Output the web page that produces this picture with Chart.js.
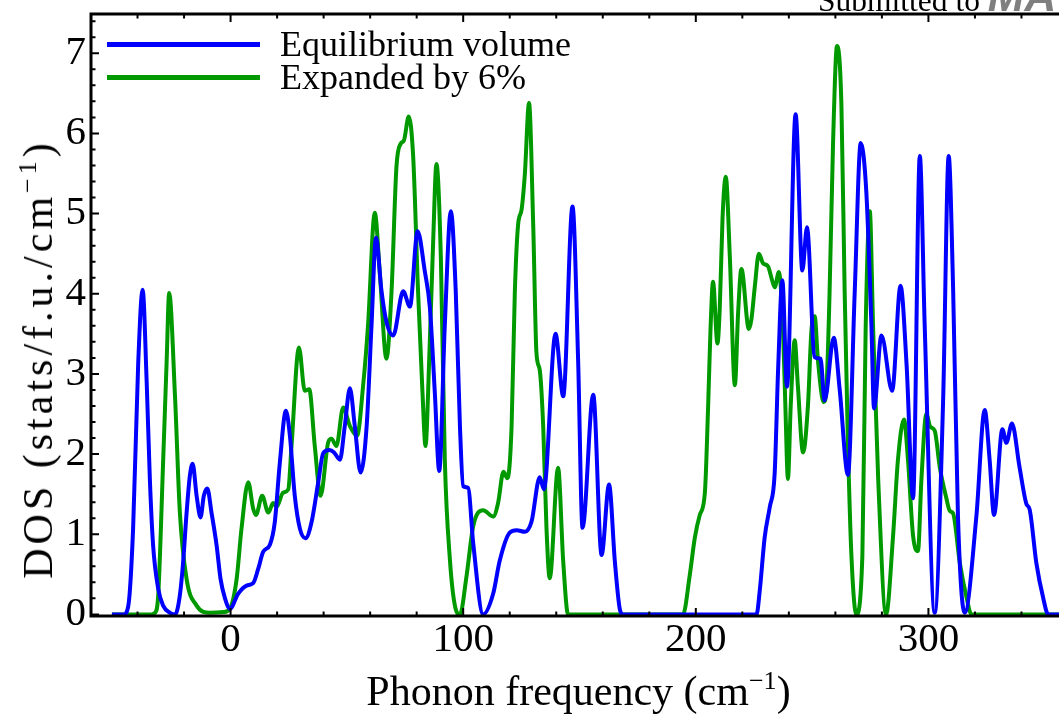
<!DOCTYPE html>
<html>
<head>
<meta charset="utf-8">
<script src="https://cdn.jsdelivr.net/npm/chart.js@4.4.0/dist/chart.umd.min.js"></script>
<style>
  html, body { margin: 0; padding: 0; background: #fff; overflow: hidden; }
  #wrap { position: relative; width: 1059px; height: 716px; overflow: hidden;
          font-family: 'Liberation Serif', 'Times New Roman', serif; color: #000; }
  #plot { position: absolute; left: 0; top: 0; }
  .txt { position: absolute; white-space: nowrap; }
  .txt sup { font-size: 0.62em; vertical-align: 0.62em; line-height: 0; }
  #xtitle { left: 0; width: 1157px; text-align: center; top: 670px; font-size: 42px; line-height: 42px; }
  #ytitle { left: 38px; top: 359px; font-size: 42px; line-height: 42px; letter-spacing: 4px;
            transform: translate(-50%, -50%) rotate(-90deg); }
  #header { left: 818px; top: -20px; font-size: 31.5px; line-height: 32px; }
  #header b { color: #7f7f7f; font-style: italic; font-weight: 900; font-size: 44px;
              font-family: 'Liberation Sans', sans-serif; }
  .row { position: absolute; left: 107px; height: 33px; display: flex; align-items: center;
         font-size: 36px; line-height: 33px; white-space: nowrap; }
  .row .sw { display: inline-block; width: 153px; height: 5px; margin-right: 20px; }
</style>
</head>
<body>
<div id="wrap">
  <canvas id="plot" width="1075" height="716"></canvas>
  <div class="txt" id="header">Submitted to <b>MA</b></div>
  <div id="legend"></div>
  <div class="txt" id="xtitle">Phonon frequency (cm<sup>−1</sup>)</div>
  <div class="txt" id="ytitle">DOS (stats/f.u./cm<sup>−1</sup>)</div>
</div>
<script>
// phonon DOS, [frequency (cm^-1), states/f.u./cm^-1]
const equilibriumDOS = [
  [-51, 0], [-46, 0], [-44, 0.1], [-41.9, 1.07], [-39.7, 3.14], [-37.8, 4.05], [-36.1, 2.93],
  [-34.7, 1.69], [-33.3, 0.86], [-31.1, 0.32], [-29, 0.11], [-26, 0.02], [-23.8, 0], [-21.8, 0.24],
  [-20.4, 0.65], [-18.9, 1.27], [-17.5, 1.73], [-16.3, 1.88], [-14.6, 1.48], [-12.9, 1.21],
  [-11.5, 1.48], [-10, 1.57], [-8.2, 1.27], [-6, 0.86], [-4.3, 0.44], [-2.4, 0.2], [-0.3, 0.07],
  [3.3, 0.26], [6.9, 0.36], [9.7, 0.39], [11.9, 0.57], [14, 0.78], [16.9, 0.87], [19, 1.15],
  [21.2, 1.9], [23.8, 2.54], [25.5, 2.23], [27.6, 1.48], [29.8, 1.07], [32.2, 0.95], [34.8, 1.15],
  [37.7, 1.65], [39.8, 2.01], [42.5, 2.05], [44.5, 2.02], [47, 1.93], [49.1, 2.35], [51.3, 2.82],
  [53.4, 2.35], [55.9, 1.77], [58.5, 2.35], [60.6, 3.61], [62.5, 4.7], [64.9, 4.03], [67, 3.65],
  [69.9, 3.48], [74.2, 4.03], [77.1, 3.84], [80.4, 4.78], [83.5, 4.28], [85.7, 3.82], [87.8, 2.77],
  [89.7, 1.79], [92.1, 3.61], [94.7, 5.03], [96.8, 4.03], [98.6, 2.35], [100, 1.6], [102.1, 1.58],
  [104.3, 0.89], [108.6, 0], [112.9, 0.26], [115.7, 0.67], [120, 1.02], [123, 1.05], [126.5, 1.03],
  [129.4, 1.16], [132.9, 1.71], [134.7, 1.56], [139.7, 3.5], [143, 2.72], [147, 5.09], [149.4, 3.18],
  [151.3, 1.08], [155.9, 2.74], [159.5, 0.74], [162.7, 1.62], [165.2, 0.66], [167.3, 0.07],
  [168.7, 0], [226.1, 0], [227.5, 0.3], [229.6, 0.96], [231.8, 1.34], [233.9, 1.76], [235.4, 3.07],
  [237.2, 4.17], [239.2, 2.84], [242.9, 6.24], [245.8, 4.29], [247.8, 4.83], [251.1, 3.21],
  [253.6, 3.19], [255.4, 2.67], [259.3, 3.45], [261.9, 2.79], [265.4, 1.74], [268.3, 4.01],
  [270.9, 5.88], [273.3, 5.27], [275.5, 3.6], [276.6, 2.57], [279.8, 3.48], [284.4, 2.79], [288, 4.1],
  [290.6, 3.12], [293.4, 1.45], [296.3, 5.72], [298.4, 3.6], [302.7, 0.02], [306.3, 2.65],
  [308.7, 5.72], [310.6, 4.08], [312.7, 1.22], [315.6, 0.02], [320.6, 1.22], [324.2, 2.55],
  [326.3, 1.93], [328.2, 1.24], [331.8, 2.31], [333.5, 2.14], [335.9, 2.38], [339.2, 1.83],
  [342.1, 1.38], [343.5, 1.31], [346.4, 0.64], [349.3, 0.21], [351.5, 0], [362, 0]
];

const expandedDOS = [
  [-51, 0], [-34, 0], [-32.5, 0.02], [-31.1, 0.24], [-29, 1.9], [-27.5, 3.14], [-26.4, 4.01],
  [-23.9, 2.73], [-21.8, 1.27], [-18.9, 0.44], [-14.6, 0.11], [-8.9, 0.02], [-3, 0.03], [-0.3, 0.07],
  [2.6, 0.44], [4.7, 1.07], [7.6, 1.65], [9.7, 1.32], [10.9, 1.24], [13.6, 1.48], [16.2, 1.27],
  [18.3, 1.39], [19.8, 1.34], [22.6, 1.52], [24.8, 1.56], [26.2, 2.1], [29.4, 3.33], [31.9, 2.79],
  [33.8, 2.81], [36.2, 2.1], [38.7, 1.48], [42, 2.15], [43.4, 2.19], [45.5, 2.1], [48.4, 2.58],
  [51.3, 2.35], [54.4, 2.23], [57, 2.86], [59.1, 3.61], [62, 5.01], [64.2, 4.24], [67, 3.19],
  [69.2, 4.03], [71.3, 5.58], [73.1, 5.87], [74.5, 5.91], [76.6, 6.21], [78.5, 5.71], [80.6, 4.03],
  [82.5, 2.77], [83.8, 2.1], [85.4, 3.19], [87.1, 4.66], [88.5, 5.62], [90.4, 4.45], [92.1, 1.93],
  [94.3, 0.68], [96.5, 0.1], [98.6, 0], [101.4, 0.47], [104.3, 1.1], [108.6, 1.3], [112.9, 1.22],
  [115, 1.39], [117.3, 1.78], [119, 1.7], [120.8, 2.34], [122.2, 4.02], [123.6, 4.86], [125.1, 5.05],
  [126.5, 5.49], [128.3, 6.38], [130.1, 4.86], [131.5, 3.26], [132.9, 3.05], [134.4, 2.34],
  [135.8, 1.08], [137.2, 0.45], [140.8, 1.83], [143, 0.66], [145.1, 0], [194.5, 0], [197.4, 0.49],
  [199.6, 0.96], [201.7, 1.24], [203.9, 1.52], [205.3, 2.6], [206.3, 3.54], [207.4, 4.15],
  [209.3, 3.38], [210.3, 3.82], [211.5, 4.95], [212.9, 5.46], [214.6, 4.48], [216.8, 2.86],
  [218.2, 3.77], [219.6, 4.31], [222.8, 3.56], [223.9, 3.68], [225.4, 4.1], [227.1, 4.5],
  [228.9, 4.38], [231.1, 4.34], [232.5, 4.2], [233.9, 4.08], [235.7, 4.27], [237.5, 3.54],
  [238.5, 2.6], [239.6, 1.69], [240.8, 2.6], [242.5, 3.42], [243.9, 2.84], [246.1, 2.02],
  [248.2, 2.6], [249.7, 3.54], [251.1, 3.72], [252.5, 3.17], [255, 2.65], [256.1, 2.79],
  [257.5, 4.01], [259, 5.88], [260.7, 7.09], [262.6, 6.35], [264, 4.01], [265.4, 2.13],
  [266.9, 0.73], [269, 0], [271.6, 0.73], [273, 3.54], [274.8, 5.03], [276.2, 3.6], [278.4, 1.69],
  [281.8, 0], [284.8, 0.98], [286.9, 1.93], [289.5, 2.43], [291.2, 1.93], [293.4, 0.98],
  [295.5, 0.79], [297, 1.69], [299.1, 2.5], [300.8, 2.34], [302.7, 2.29], [304.9, 1.83],
  [307.7, 1.45], [309.2, 1.29], [310.6, 1.26], [313.5, 0.64], [316.4, 0.21], [318.5, 0], [362, 0]
];

const seriesNames = ['Equilibrium volume', 'Expanded by 6%'];
const seriesColors = ['#0000ff', '#009a00'];

const xMajorTicks = [0, 100, 200, 300];
const yMajorTicks = [0, 1, 2, 3, 4, 5, 6, 7];
const xMinorStep = 20;
const yMinorPerUnit = 5;

const toXY = pts => pts.map(([x, y]) => ({ x, y }));

// inward Mathematica-style ticks + frame
const frameTicks = {
    id: 'frameTicks',
    afterDraw(chart) {
        const { ctx, chartArea: a } = chart;
        const xs = chart.scales.x, ys = chart.scales.y;
        ctx.save();
        ctx.strokeStyle = '#000';
        ctx.lineWidth = 2;
        ctx.beginPath();
        xs.ticks.forEach(t => {
            const p = xs.getPixelForValue(t.value);
            const len = t.major ? 8 : 4.5;
            ctx.moveTo(p, a.bottom); ctx.lineTo(p, a.bottom - len);
            ctx.moveTo(p, a.top); ctx.lineTo(p, a.top + len);
        });
        ys.ticks.forEach(t => {
            const p = ys.getPixelForValue(t.value);
            const len = t.major ? 8 : 4.5;
            ctx.moveTo(a.left, p); ctx.lineTo(a.left + len, p);
            ctx.moveTo(a.right, p); ctx.lineTo(a.right - len, p);
        });
        ctx.stroke();
        ctx.lineWidth = 3;
        ctx.strokeRect(a.left, a.top, a.right - a.left, a.bottom - a.top);
        ctx.restore();
    }
};

const tickFont = { family: "'Liberation Serif', 'Times New Roman', serif", size: 41 };

const chart = new Chart(document.getElementById('plot').getContext('2d'), {
    type: 'line',
    data: {
        datasets: [
            { label: seriesNames[0], data: toXY(equilibriumDOS) },
            { label: seriesNames[1], data: toXY(expandedDOS) }
        ].map((ds, i) => Object.assign(ds, {
            borderColor: seriesColors[i],
            backgroundColor: seriesColors[i],
            borderWidth: 4,
            pointRadius: 0,
            fill: false,
            cubicInterpolationMode: 'monotone'
        }))
    },
    options: {
        responsive: false,
        animation: false,
        layout: { padding: { top: 14, right: 7, left: 0, bottom: 0 } },
        plugins: { legend: { display: false }, tooltip: { enabled: false } },
        scales: {
            x: {
                type: 'linear',
                min: -60,
                max: 360,
                grid: { display: false, drawTicks: false },
                border: { display: false },
                afterBuildTicks: s => {
                    const t = [];
                    for (let v = -60; v <= 340; v += xMinorStep) t.push({ value: v, major: xMajorTicks.includes(v) });
                    s.ticks = t;
                },
                afterFit: s => { s.height = 100; s.paddingLeft = 0; s.paddingRight = 0; },
                ticks: {
                    autoSkip: false,
                    maxRotation: 0,
                    padding: 0,
                    color: '#000',
                    font: tickFont,
                    callback: v => xMajorTicks.includes(v) ? String(v) : ''
                }
            },
            y: {
                min: -0.02,
                max: 7.49,
                grid: { display: false, drawTicks: false },
                border: { display: false },
                afterBuildTicks: s => {
                    const t = [];
                    for (let k = 0; k <= 37; k++) {
                        const v = k / yMinorPerUnit;
                        t.push({ value: v, major: yMajorTicks.includes(v) });
                    }
                    s.ticks = t;
                },
                afterFit: s => { s.width = 91; s.paddingTop = 0; s.paddingBottom = 0; },
                ticks: {
                    autoSkip: false,
                    padding: 5,
                    color: '#000',
                    font: tickFont,
                    callback: v => yMajorTicks.includes(v) ? String(v) : ''
                }
            }
        }
    },
    plugins: [frameTicks]
});

// legend rows built from the datasets
const legendBox = document.getElementById('legend');
chart.data.datasets.forEach((ds, i) => {
    const row = document.createElement('div');
    row.className = 'row';
    row.style.top = (27.5 + i * 33) + 'px';
    row.innerHTML = `<span class="sw" style="background:${ds.borderColor}"></span><span>${ds.label}</span>`;
    legendBox.appendChild(row);
});
</script>
</body>
</html>
